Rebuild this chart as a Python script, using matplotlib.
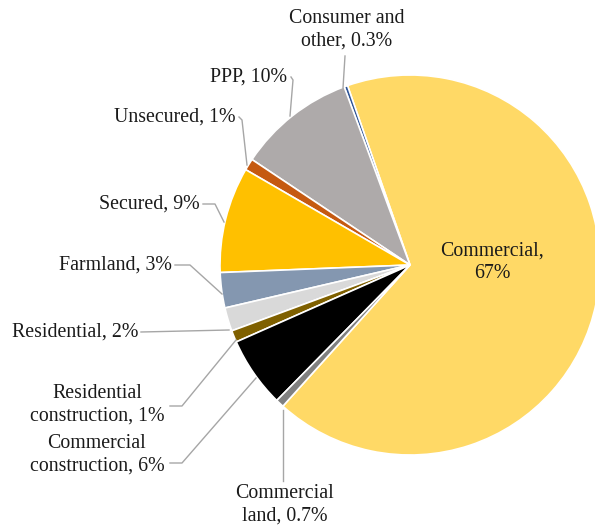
import matplotlib
matplotlib.use("Agg")
import matplotlib.pyplot as plt
import matplotlib.transforms as mtransforms

categories = ["Commercial", "Consumer and\nother", "PPP", "Unsecured", "Secured",
              "Farmland", "Residential", "Residential\nconstruction",
              "Commercial\nconstruction", "Commercial\nland"]
values = [67, 0.3, 10, 1, 9, 3, 2, 1, 6, 0.7]
pct_labels = ["67%", "0.3%", "10%", "1%", "9%", "3%", "2%", "1%", "6%", "0.7%"]
colors = ["#FFD966", "#2F5597", "#AEAAAA", "#C55A11", "#FFC000",
          "#8497B0", "#D9D9D9", "#7F6000", "#000000", "#808080"]

W, H = 595, 530
fig = plt.figure(figsize=(W / 100, H / 100), dpi=100)
ax = fig.add_axes([0, 0, 1, 1])
ax.set_aspect("equal")
ax.axis("off")

cx, cy, r = 410, 265, 190
wedges, _ = ax.pie(values, colors=colors, startangle=-132, counterclock=True,
                   center=(cx, H - cy), radius=r,
                   wedgeprops=dict(edgecolor="white", linewidth=1.2))
flip = mtransforms.Affine2D().scale(1, -1).translate(0, H)
for w in wedges:
    w.set_transform(flip + ax.transData)
ax.set_xlim(0, W)
ax.set_ylim(H, 0)

font = dict(family="Liberation Serif", size=14.3, color="#1a1a1a")
lc = "#A6A6A6"
ls = 1.25

def lbl(i, sep=", "):
    return categories[i] + sep + pct_labels[i]

specs = [
    (1, 347, 30, "center", [(345, 56), (343, 88)]),
    (2, 287, 77, "right", [(291, 77), (293, 80), (290, 116)]),
    (3, 236, 117, "right", [(239, 117), (242, 120), (247, 165)]),
    (4, 200, 204, "right", [(203, 204), (215, 204), (224, 222)]),
    (5, 172, 265, "right", [(175, 265), (190, 265), (222, 294)]),
    (6, 138, 332, "right", [(141, 332), (229, 330)]),
    (7, 97, 405, "center", [(170, 406), (182, 406), (236, 340)]),
    (8, 97, 455, "center", [(170, 463), (182, 463), (256, 378)]),
    (9, 285, 505, "center", [(283, 481), (283, 410)]),
]
for i, x, y, ha, pts in specs:
    ax.text(x, y, lbl(i), ha=ha, va="center", linespacing=ls, **font)
    xs = [p[0] for p in pts]
    ys = [p[1] for p in pts]
    ax.plot(xs, ys, color=lc, lw=1.0)

ax.text(492, 262, categories[0] + ",\n" + pct_labels[0], ha="center", va="center",
        linespacing=ls, **font)

fig.savefig("out.png", dpi=100)
